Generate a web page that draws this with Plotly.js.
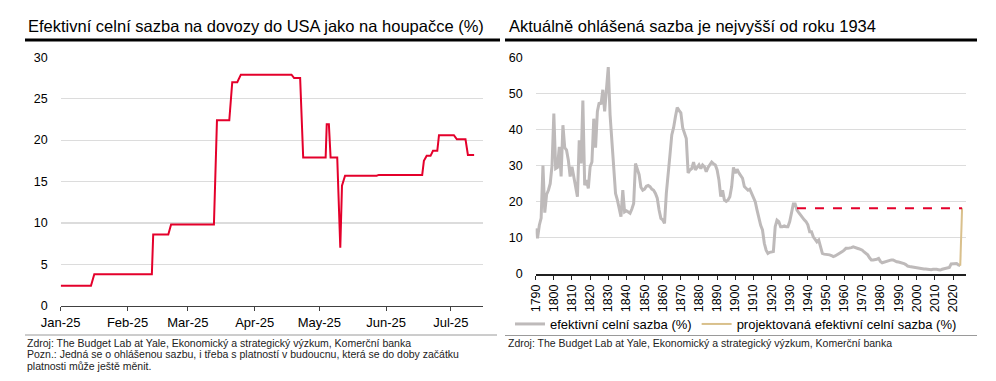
<!DOCTYPE html>
<html><head><meta charset="utf-8">
<script src="https://cdn.plot.ly/plotly-3.0.1.min.js"></script>
<style>html,body{margin:0;padding:0;background:#fff}#chart{width:996px;height:381px}</style>
</head><body><div id="chart"></div>
<script>
// ---- Left chart: announced effective tariff rate 2025 ----
const tariffDates = [
  "2025-01-01 00:00","2025-01-15 01:00","2025-01-16 14:00","2025-02-12 07:00","2025-02-12 22:00",
  "2025-02-19 22:00","2025-02-21 05:00","2025-03-13 02:00","2025-03-14 12:00","2025-03-20 05:00",
  "2025-03-21 14:00","2025-03-23 22:00","2025-03-25 14:00","2025-04-18 02:00","2025-04-19 07:00",
  "2025-04-22 02:00","2025-04-23 12:00","2025-05-03 22:00","2025-05-04 10:00","2025-05-05 10:00",
  "2025-05-06 05:00","2025-05-09 07:00","2025-05-10 17:00","2025-05-11 12:00","2025-05-12 22:00",
  "2025-05-27 14:00","2025-05-28 14:00","2025-06-17 17:00","2025-06-18 12:00","2025-06-19 19:00",
  "2025-06-21 14:00","2025-06-22 17:00","2025-06-24 17:00","2025-06-25 12:00","2025-07-02 10:00",
  "2025-07-03 19:00","2025-07-07 19:00","2025-07-08 22:00","2025-07-11 19:00"
];
const tariffRate = [
  2.4,2.4,3.8,3.8,8.6,
  8.6,9.8,9.8,22.4,22.4,
  27.0,27.0,27.9,27.9,27.5,
  27.5,17.9,17.9,21.9,21.9,
  17.9,17.9,7.0,14.5,15.7,
  15.7,15.8,15.8,17.5,18.1,
  18.1,18.7,18.7,20.6,20.6,
  20.1,20.1,18.2,18.2
];

// ---- Right chart: historical effective tariff rate 1790-2024 ----
const histStartYear = 1790;
const histRate = [
  // 1790-1799
  12.6,9.9,13.5,15.5,30.0,17.0,22.0,23.2,25.0,30.0,
  // 1800-1809
  44.4,29.2,29.5,35.2,27.0,41.2,35.0,34.3,31.5,27.0,
  // 1810-1819
  29.7,27.0,24.2,21.4,37.0,30.6,48.0,24.6,26.0,23.7,
  // 1820-1829
  29.7,31.0,43.0,35.0,45.0,47.5,47.0,51.0,45.0,51.0,
  // 1830-1839
  57.3,44.0,36.0,28.8,22.3,20.5,18.0,15.9,23.2,17.2,
  // 1840-1849
  17.5,17.2,16.8,18.0,19.5,30.6,28.8,27.5,24.0,23.2,
  // 1850-1859
  23.5,24.3,24.5,24.2,23.5,23.2,22.3,21.0,17.7,15.4,
  // 1860-1869
  15.0,14.0,22.3,27.0,33.0,38.5,40.5,43.5,46.1,45.3,
  // 1870-1879
  44.6,40.5,38.9,37.5,28.0,28.8,29.2,31.0,28.8,29.5,
  // 1880-1889
  30.2,29.2,30.2,29.7,28.3,29.5,30.2,31.0,30.5,30.2,
  // 1890-1899
  28.8,26.0,21.4,23.2,20.5,20.1,20.5,21.4,24.2,29.5,
  // 1900-1909
  27.9,29.0,28.0,27.4,26.5,24.2,23.8,23.2,23.5,22.3,
  // 1910-1919
  21.5,20.0,17.7,15.4,13.5,12.2,8.5,6.6,5.7,6.0,
  // 1920-1929
  6.0,6.2,13.1,14.9,14.5,13.1,13.1,13.3,13.1,13.1,
  // 1930-1939
  14.5,16.8,19.4,19.4,17.7,17.0,16.3,15.4,15.0,14.5,
  // 1940-1949
  13.6,11.7,11.7,10.3,9.5,8.9,9.4,7.5,5.7,5.5,
  // 1950-1959
  5.5,5.4,5.3,5.1,4.8,5.0,5.3,5.5,5.7,6.2,
  // 1960-1969
  6.6,7.1,7.1,7.1,7.3,7.5,7.4,7.2,7.0,6.8,
  // 1970-1979
  6.6,6.1,5.6,5.3,4.5,3.9,3.9,3.9,4.1,4.3,
  // 1980-1989
  3.5,3.1,3.3,3.4,3.5,3.7,3.9,3.9,3.6,3.4,
  // 1990-1999
  3.3,3.2,3.1,2.9,2.6,2.2,2.1,2.0,1.85,1.7,
  // 2000-2009
  1.6,1.5,1.5,1.4,1.4,1.4,1.3,1.3,1.2,1.3,
  // 2010-2019
  1.4,1.3,1.2,1.1,1.3,1.4,1.5,1.5,1.8,2.8,
  // 2020-2024
  2.8,2.9,2.9,2.5,2.3
];
const histYears = histRate.map((_, i) => histStartYear + i);
const projYears = [2024, 2025];
const projRate = [2.3, 18.2];
const refYears = [1934, 2025];
const refRate = [18.2, 18.2];

const leftTicks = ["2025-01-01","2025-02-01","2025-03-01","2025-04-01","2025-05-01","2025-06-01","2025-07-01"];
const leftTickText = ["Jan-25","Feb-25","Mar-25","Apr-25","May-25","Jun-25","Jul-25"];

const W = 996, H = 381;
const px = x => x / W;
const py = y => 1 - y / H;

const RED = "#e4002b", GREY = "#bebaba", TAN = "#d9c08c";
const FONT = "Liberation Sans, Arial, Helvetica, sans-serif";

const traces = [
  {x: tariffDates, y: tariffRate, type: "scatter", mode: "lines", xaxis: "x", yaxis: "y",
   line: {color: RED, width: 2}, showlegend: false, hoverinfo: "x+y"},
  {x: histYears, y: histRate, type: "scatter", mode: "lines", xaxis: "x2", yaxis: "y2",
   name: "efektivní celní sazba (%)", line: {color: GREY, width: 3}},
  {x: projYears, y: projRate, type: "scatter", mode: "lines", xaxis: "x2", yaxis: "y2",
   name: "projektovaná efektivní celní sazba (%)", line: {color: TAN, width: 2}},
  {x: refYears, y: refRate, type: "scatter", mode: "lines", xaxis: "x2", yaxis: "y2",
   showlegend: false, line: {color: RED, width: 2, dash: "dash"}}
];

const axisFont = {family: FONT, size: 12.5, color: "#000"};

const layout = {
  width: W, height: H,
  margin: {l: 0, r: 0, t: 0, b: 0},
  paper_bgcolor: "#fff", plot_bgcolor: "#fff",
  font: {family: FONT, color: "#000"},
  xaxis: {
    domain: [px(60.7), px(483)], type: "date",
    range: ["2025-01-01", "2025-07-15 22:00"],
    tickvals: leftTicks, ticktext: leftTickText,
    showgrid: false, showline: true, linecolor: "#404040", linewidth: 1.5,
    ticks: "outside", ticklen: 4, tickcolor: "#404040", tickwidth: 1,
    tickfont: {family: FONT, size: 13, color: "#000"}, anchor: "y", fixedrange: true
  },
  yaxis: {
    domain: [py(305.7), py(57.3)], range: [0, 30], dtick: 5, tick0: 0,
    showgrid: true, gridcolor: "#dcdcdc", gridwidth: 1.2, zeroline: false,
    showline: false, ticks: "", tickfont: axisFont, ticklabelstandoff: 12,
    anchor: "x", fixedrange: true
  },
  xaxis2: {
    domain: [px(535.7), px(965.7)], range: [1790, 2027],
    tick0: 1790, dtick: 10, tickangle: -90,
    showgrid: false, showline: true, linecolor: "#202020", linewidth: 1.5,
    ticks: "outside", ticklen: 4, tickcolor: "#202020", tickwidth: 1,
    tickfont: axisFont, anchor: "y2", fixedrange: true
  },
  yaxis2: {
    domain: [py(274), py(57.3)], range: [0, 60], dtick: 10, tick0: 0,
    showgrid: true, gridcolor: "#dcdcdc", gridwidth: 1.2, zeroline: false,
    showline: false, ticks: "", tickfont: axisFont, ticklabelstandoff: 12,
    anchor: "x2", fixedrange: true
  },
  showlegend: true,
  legend: {
    orientation: "h", x: px(510), xanchor: "left", y: py(324), yanchor: "middle",
    font: {family: FONT, size: 13, color: "#000"}, bgcolor: "rgba(0,0,0,0)",
    itemwidth: 30, tracegroupgap: 0
  },
  shapes: [
    {type: "line", xref: "paper", yref: "paper", x0: px(25), x1: px(500), y0: py(40), y1: py(40), line: {color: "#000", width: 3}},
    {type: "line", xref: "paper", yref: "paper", x0: px(505), x1: px(977), y0: py(40), y1: py(40), line: {color: "#000", width: 3}},
    {type: "line", xref: "paper", yref: "paper", x0: px(25), x1: px(497), y0: py(335), y1: py(335), line: {color: "#9a9a9a", width: 1}},
    {type: "line", xref: "paper", yref: "paper", x0: px(505), x1: px(977), y0: py(335.5), y1: py(335.5), line: {color: "#9a9a9a", width: 1}}
  ],
  annotations: [
    {text: "Efektivní celní sazba na dovozy do USA jako na houpačce (%)", xref: "paper", yref: "paper",
     x: px(26), y: py(26), xanchor: "left", yanchor: "middle", showarrow: false,
     font: {family: FONT, size: 16.5, color: "#000"}},
    {text: "Aktuálně ohlášená sazba je nejvyšší od roku 1934", xref: "paper", yref: "paper",
     x: px(507), y: py(26), xanchor: "left", yanchor: "middle", showarrow: false,
     font: {family: FONT, size: 16.5, color: "#000"}},
    {text: "Zdroj: The Budget Lab at Yale, Ekonomický a strategický výzkum, Komerční banka", xref: "paper", yref: "paper",
     x: px(25), y: py(342.5), xanchor: "left", yanchor: "middle", showarrow: false,
     font: {family: FONT, size: 10.5, color: "#222"}},
    {text: "Pozn.: Jedná se o ohlášenou sazbu, i třeba s platností v budoucnu, která se do doby začátku", xref: "paper", yref: "paper",
     x: px(25), y: py(354), xanchor: "left", yanchor: "middle", showarrow: false,
     font: {family: FONT, size: 10.5, color: "#222"}},
    {text: "platnosti může ještě měnit.", xref: "paper", yref: "paper",
     x: px(25), y: py(365.5), xanchor: "left", yanchor: "middle", showarrow: false,
     font: {family: FONT, size: 10.5, color: "#222"}},
    {text: "Zdroj: The Budget Lab at Yale, Ekonomický a strategický výzkum, Komerční banka", xref: "paper", yref: "paper",
     x: px(506), y: py(343), xanchor: "left", yanchor: "middle", showarrow: false,
     font: {family: FONT, size: 10.5, color: "#222"}}
  ]
};

Plotly.newPlot("chart", traces, layout, {displayModeBar: false, staticPlot: true});
</script>
</body></html>
